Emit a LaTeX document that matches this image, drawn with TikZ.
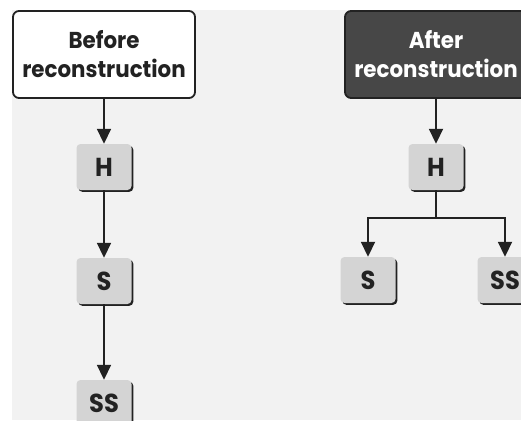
\documentclass[tikz,border=0pt]{standalone}
\usepackage{fontspec}
\setmainfont{Poppins}[FakeStretch=0.93]
\usetikzlibrary{arrows.meta}
\definecolor{bg}{HTML}{F2F2F2}
\definecolor{ink}{HTML}{222222}
\definecolor{dark}{HTML}{474747}
\definecolor{chip}{HTML}{D4D4D4}
\tikzset{
  x=1pt,y=1pt,
  bigbox/.style={draw=ink,line width=1.8pt,rounded corners=6pt,minimum width=182pt,minimum height=87pt,align=center,font=\fontsize{23}{29}\selectfont\bfseries,inner sep=0pt},
  chipbox/.style={fill=chip,rounded corners=4pt,minimum width=55pt,minimum height=46pt,font=\fontsize{26}{30}\selectfont\bfseries,text=ink,inner sep=0pt},
  chipshadow/.style={fill=ink,rounded corners=4pt,minimum width=55pt,minimum height=46pt,inner sep=0pt},
  conn/.style={draw=ink,line width=1.8pt,-{Triangle[width=14pt,length=15pt]}},
}
\begin{document}
\begin{tikzpicture}
\useasboundingbox (0,0) rectangle (521,-420);
\fill[white] (0,0) rectangle (521,-420);
\fill[bg] (12,-10) rectangle (521,-420);
% left column
\node[bigbox,fill=white,text=ink] (before) at (104,-54.5) {Before\\reconstruction};
\foreach \n/\t/\y in {h1/H/-167,s1/S/-281,ss1/SS/-403}{
  \node[chipshadow] at (104+1.8,\y-1.8) {};
  \node[chipbox] (\n) at (104,\y) {\t};
}
\draw[conn] (before.south) -- (h1.north);
\draw[conn] (h1.south) -- (s1.north);
\draw[conn] (s1.south) -- (ss1.north);
% right column
\node[bigbox,fill=dark,text=white] (after) at (436,-54.5) {After\\reconstruction};
\foreach \n/\t/\x/\y in {h2/H/436/-167,s2/S/368/-280,ss2/SS/505/-280}{
  \node[chipshadow] at (\x+1.8,\y-1.8) {};
  \node[chipbox] (\n) at (\x,\y) {\t};
}
\draw[conn] (after.south) -- (h2.north);
\coordinate (split) at (436,-218);
\draw[draw=ink,line width=1.8pt] (h2.south) -- (split);
\draw[conn] (split) -| (s2.north);
\draw[conn] (split) -| (ss2.north);
\end{tikzpicture}
\end{document}
